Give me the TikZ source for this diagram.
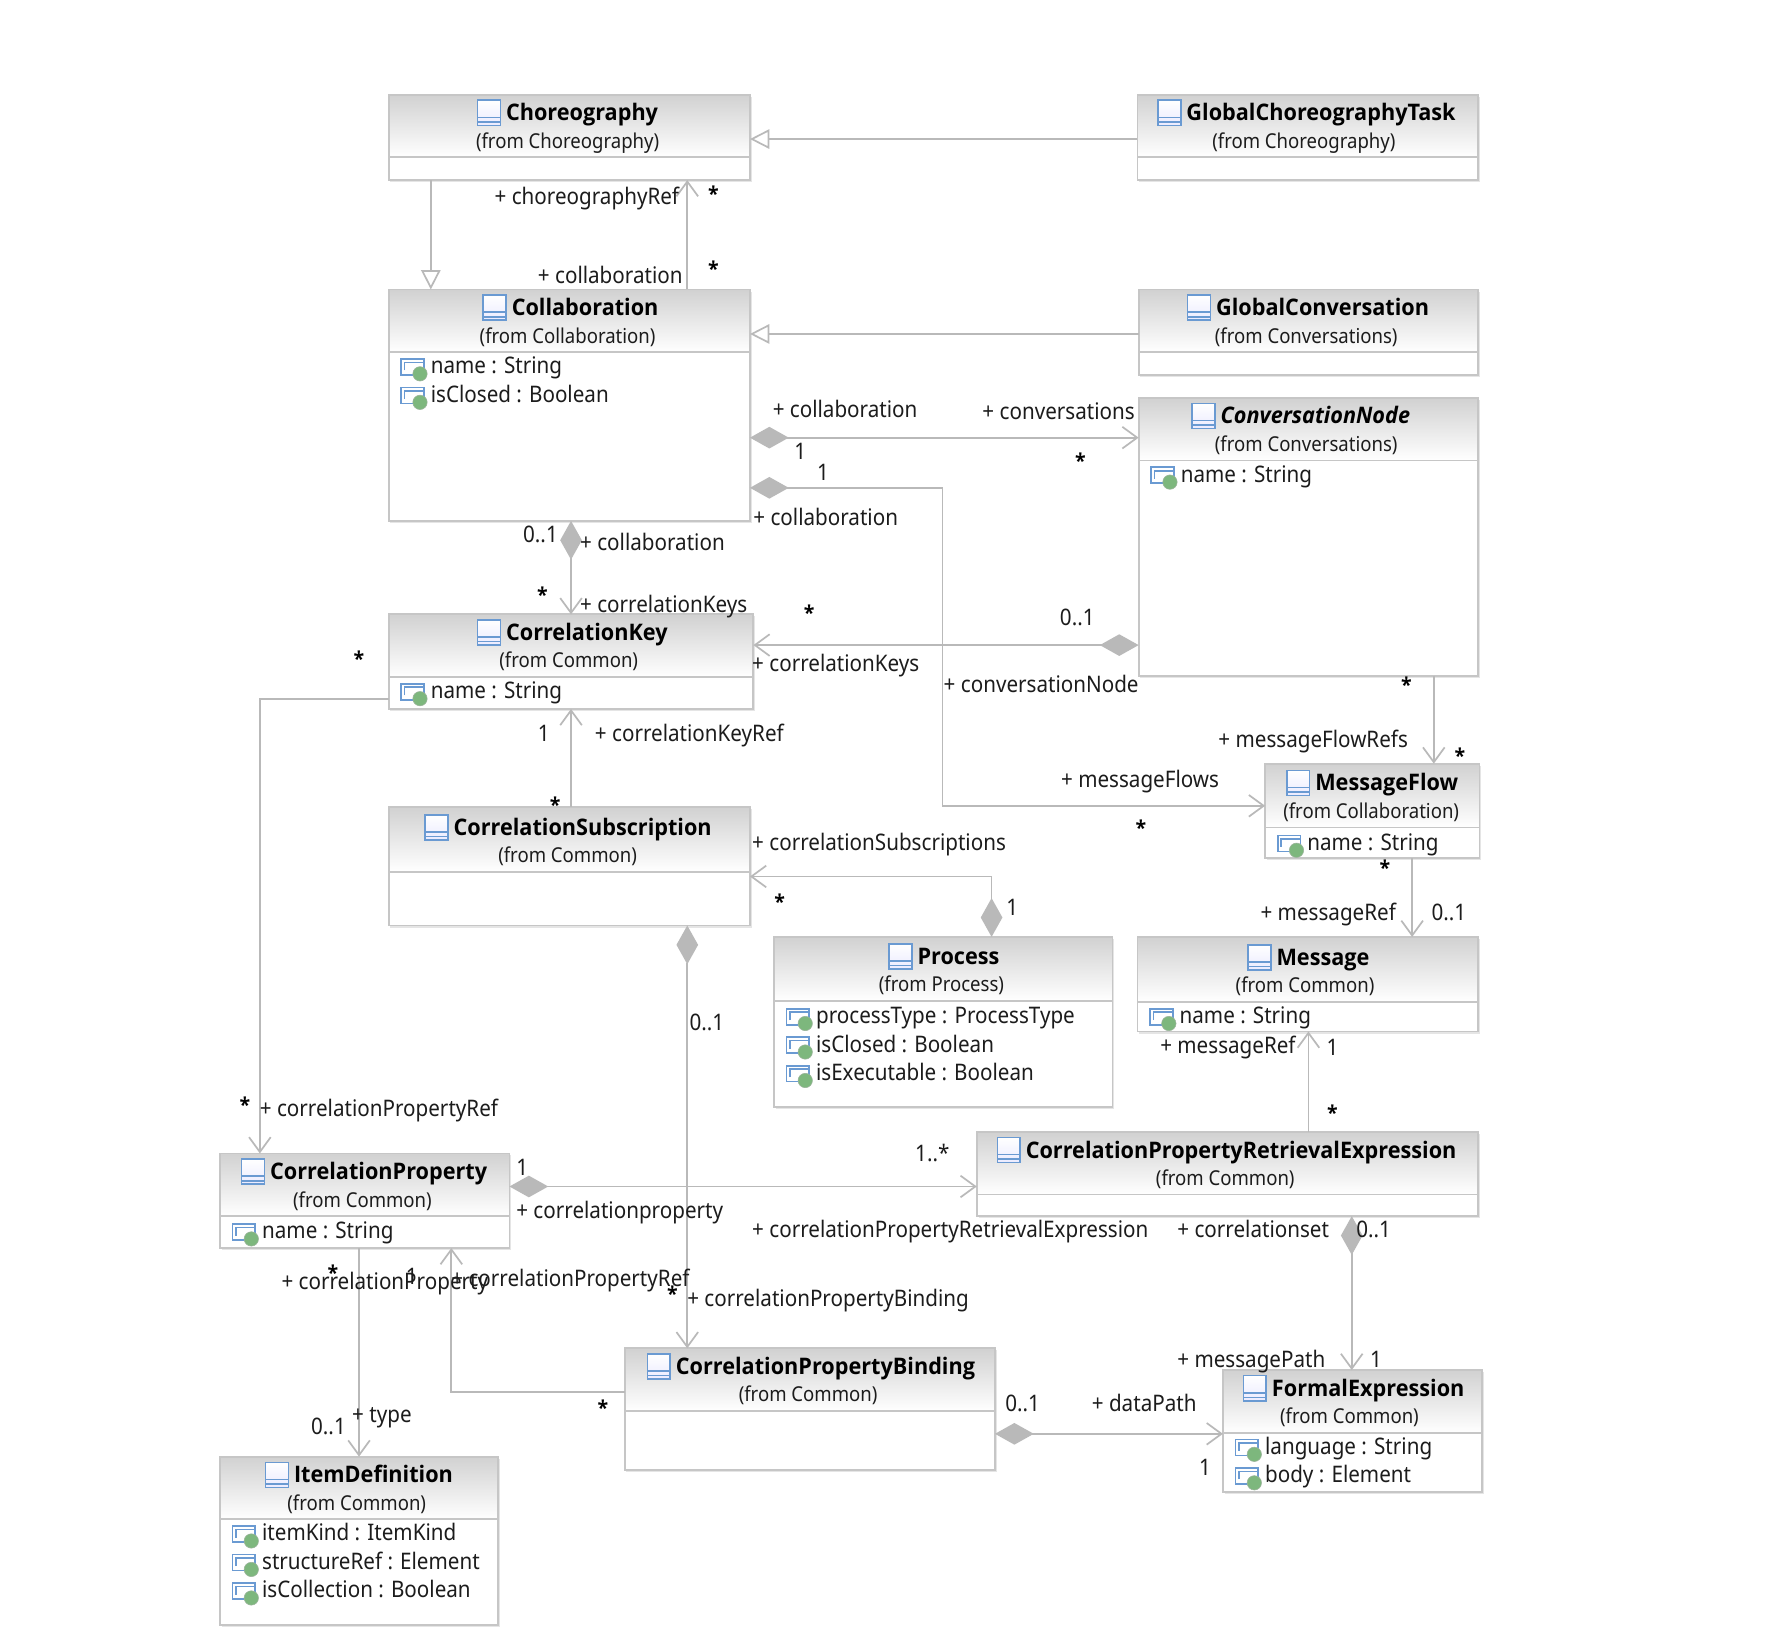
\documentclass[tikz,border=0pt]{standalone}
\usepackage{fontspec}
\setmainfont[FakeStretch=0.905]{Noto Sans}
\newfontfamily\titlefont[FakeStretch=0.95]{Open Sans}
\usetikzlibrary{arrows.meta,shadows,calc}
\definecolor{lineg}{HTML}{B9B9B9}
\definecolor{boxg}{HTML}{C6C6C6}
\definecolor{iconb}{HTML}{6A9AD2}
\definecolor{icong}{HTML}{7DB77D}
\definecolor{txt}{HTML}{1C1C1C}
\newcount\lblcnt
\tikzset{
  x=1pt,y=-1pt,
  umlbox/.style={draw=boxg,line width=1.6pt,fill=white,inner sep=0,outer sep=0,
    drop shadow={shadow xshift=1.6pt,shadow yshift=-1.8pt,fill=black!10,opacity=1}},
  boxline/.style={draw=boxg,line width=1.6pt},
  lbl/.style={anchor=west,inner sep=0,outer sep=0,text=txt,text height=16pt,text depth=2pt,font=\fontsize{20}{22}\selectfont},
  titlelbl/.style={anchor=west,inner sep=0,outer sep=0,text=black,text height=16pt,text depth=2pt,font=\fontsize{20}{22}\titlefont\bfseries},
  fromlbl/.style={anchor=center,inner sep=0,outer sep=0,text=txt,text height=16pt,text depth=2pt,font=\fontsize{18}{20}\selectfont},
  starlbl/.style={anchor=center,inner sep=0,outer sep=0,text=black,font=\fontsize{18}{20}\titlefont\bfseries},
  conn/.style={draw=lineg,line width=1.5pt},
  gen/.style={conn,-{Triangle[open,fill=white,length=17pt,width=17pt,line width=1.5pt]}},
  nav/.style={conn,-{Straight Barb[length=13pt,width=19pt,line width=1.5pt]}},
  compnav/.style={conn,{Diamond[fill=lineg,length=34pt,width=19pt,line width=0pt]}-{Straight Barb[length=13pt,width=19pt,line width=1.5pt]}},
}
% id, x1, y1, x2, y2, header line y, icon x, from centre x, title
\newcommand{\umlclass}[9]{%
  \node[umlbox,minimum width={(#4-#2)*1pt},minimum height={(#5-#3)*1pt}] (#1) at ({(#2+#4)/2},{(#3+#5)/2}) {};
  \shade[top color=black!18,bottom color=white] (#1.north west) rectangle (#1.east |- 0,#6);
  \draw[boxline] (#1.north west) rectangle (#1.south east);
  \draw[boxline] (#1.west |- 0,#6) -- (#1.east |- 0,#6);
  \pgfmathsetmacro{\ty}{#6-39}
  \pgfmathsetmacro{\fy}{#6-15}
  \pgfmathsetmacro{\ix}{#7+20}
  \pgfmathsetmacro{\iya}{\ty-11}
  \pgfmathsetmacro{\iyb}{\ty+11}
  \pgfmathsetmacro{\iyc}{\ty+4}
  \pgfmathsetmacro{\iyd}{\ty+8}
  \shade[top color=white,bottom color=blue!8] (#7,\iya) rectangle (\ix,\iyb);
  \draw[draw=iconb,line width=1.4pt] (#7,\iya) rectangle (\ix,\iyb) (#7,\iyc) -- (\ix,\iyc) (#7,\iyd) -- (\ix,\iyd);
  \pgfmathsetmacro{\tx}{#7+25}
  \node[titlelbl] (#1title) at (\tx,\ty) {#9};
  \node[fromlbl] (#1from) at (#8,\fy) {(from \csname from#1\endcsname)};
}
\newcommand{\attr}[3]{%
  \pgfmathsetmacro{\ax}{#1-26}
  \pgfmathsetmacro{\axb}{#1-6}
  \pgfmathsetmacro{\aya}{#2-6}
  \pgfmathsetmacro{\ayb}{#2+8}
  \pgfmathsetmacro{\ayc}{#2-3}
  \pgfmathsetmacro{\ayd}{#2+4}
  \pgfmathsetmacro{\axc}{#1-23}
  \pgfmathsetmacro{\gx}{#1-9.5}
  \pgfmathsetmacro{\gy}{#2+7}
  \draw[draw=iconb,line width=1.5pt] (\ax,\aya) rectangle (\axb,\ayb) (\axc,\ayd) -- (\axc,\ayc) -- (\axb,\ayc);
  \fill[icong,draw=icong!70!black!60!white,line width=.5pt] (\gx,\gy) circle (6.3);
  \global\advance\lblcnt by 1
  \node[lbl,name=t\the\lblcnt] at (#1,#2) {#3};
}
\newcommand{\lab}[3]{\global\advance\lblcnt by 1 \node[lbl,name=t\the\lblcnt] at (#1,#2) {#3};}
\newcommand{\stlab}[2]{\global\advance\lblcnt by 1 \node[starlbl,name=t\the\lblcnt] at (#1,#2) {\raisebox{-4.5pt}{*}};}
\def\fromchoreo{Choreography}\def\fromgct{Choreography}\def\fromcollab{Collaboration}
\def\fromgconv{Conversations}\def\fromconvnode{Conversations}\def\fromcorrkey{Common}
\def\frommsgflow{Collaboration}\def\fromcorrsub{Common}\def\fromprocess{Process}
\def\frommessage{Common}\def\fromcpre{Common}\def\fromcorrprop{Common}
\def\fromcpb{Common}\def\fromformal{Common}\def\fromitemdef{Common}
\begin{document}
\begin{tikzpicture}
\useasboundingbox (0,0) rectangle (1567,1447.6);
\fill[white] (0,0) rectangle (1567,1447.6);
\umlclass{choreo}{341}{83}{658}{158}{138}{419}{498}{Choreography}
\umlclass{gct}{998}{83}{1297}{158}{138}{1016}{1144}{GlobalChoreographyTask}
\umlclass{collab}{341}{254}{658}{457}{309}{424}{498}{Collaboration}
\umlclass{gconv}{999}{254}{1297}{329}{309}{1042}{1146}{GlobalConversation}
\umlclass{convnode}{999}{349}{1297}{593}{404}{1046}{1146}{\itshape ConversationNode}
\umlclass{corrkey}{341}{539}{661}{622}{594}{419}{499}{CorrelationKey}
\umlclass{msgflow}{1110}{670}{1298}{753}{726}{1129}{1203}{MessageFlow}
\umlclass{corrsub}{341}{708}{658}{812}{765}{373}{498}{CorrelationSubscription}
\umlclass{process}{679}{822}{976}{971}{878}{780}{826}{Process}
\umlclass{message}{998}{822}{1297}{905}{879}{1095}{1145}{Message}
\umlclass{cpre}{857}{993}{1297}{1067}{1048}{875}{1075}{CorrelationPropertyRetrievalExpression}
\umlclass{corrprop}{193}{1012}{447}{1095}{1067}{212}{318}{CorrelationProperty}
\umlclass{cpb}{548}{1183}{873}{1290}{1238}{568}{709}{CorrelationPropertyBinding}
\umlclass{formal}{1073}{1202}{1300}{1309}{1257}{1091}{1184}{FormalExpression}
\umlclass{itemdef}{193}{1278}{437}{1426}{1333}{233}{313}{ItemDefinition}
% attributes
\attr{378}{321}{name : String}
\attr{378}{346}{isClosed : Boolean}
\attr{1036}{416}{name : String}
\attr{378}{606}{name : String}
\attr{1147}{739}{name : String}
\attr{716}{891}{processType : ProcessType}
\attr{716}{916}{isClosed : Boolean}
\attr{716}{941}{isExecutable : Boolean}
\attr{1035}{891}{name : String}
\attr{230}{1080}{name : String}
\attr{1110}{1269}{language : String}
\attr{1110}{1294}{body : Element}
\attr{230}{1345}{itemKind : ItemKind}
\attr{230}{1370}{structureRef : Element}
\attr{230}{1395}{isCollection : Boolean}
% connectors
\draw[gen] (gct.west |- 0,122) -- (choreo.east |- 0,122);
\draw[gen] (gconv.west |- 0,293) -- (collab.east |- 0,293);
\draw[gen] (378,0 |- choreo.south) -- (378,0 |- collab.north);
\draw[nav] (603,0 |- collab.north) -- (603,0 |- choreo.south);
\draw[compnav] (collab.east |- 0,384) -- (convnode.west |- 0,384);
\draw[compnav] (collab.east |- 0,428) -- (827,428) -- (827,707) -- (msgflow.west |- 0,707);
\draw[compnav] (501,0 |- collab.south) -- (501,0 |- corrkey.north);
\draw[compnav] (convnode.west |- 0,566) -- (corrkey.east |- 0,566);
\draw[nav] (corrkey.west |- 0,613) -- (228,613) -- (228,0 |- corrprop.north);
\draw[nav] (501,0 |- corrsub.north) -- (501,0 |- corrkey.south);
\draw[compnav] (870,0 |- process.north) -- (870,769) -- (corrsub.east |- 0,769);
\draw[compnav] (603,0 |- corrsub.south) -- (603,0 |- cpb.north);
\draw[nav] (1258,0 |- convnode.south) -- (1258,0 |- msgflow.north);
\draw[nav] (1239,0 |- msgflow.south) -- (1239,0 |- message.north);
\draw[nav] (1148,0 |- cpre.north) -- (1148,0 |- message.south);
\draw[compnav] (corrprop.east |- 0,1041) -- (cpre.west |- 0,1041);
\draw[compnav] (1186,0 |- cpre.south) -- (1186,0 |- formal.north);
\draw[nav] (315,0 |- corrprop.south) -- (315,0 |- itemdef.north);
\draw[nav] (cpb.west |- 0,1221) -- (396,1221) -- (396,0 |- corrprop.south);
\draw[compnav] (cpb.east |- 0,1258) -- (formal.west |- 0,1258);
% labels
\lab{434}{172}{+ choreographyRef}
\stlab{626}{170}
\lab{472}{242}{+ collaboration}
\stlab{626}{236}
\lab{678}{359}{+ collaboration}
\lab{862}{361}{+ conversations}
\lab{697}{396}{1}
\lab{717}{415}{1}
\stlab{948}{404}
\lab{661}{454}{+ collaboration}
\lab{459}{469}{0..1}
\lab{509}{476}{+ collaboration}
\stlab{476}{522}
\lab{509}{530}{+ correlationKeys}
\stlab{710}{538}
\lab{930}{542}{0..1}
\lab{660}{582}{+ correlationKeys}
\stlab{315}{578}
\lab{828}{601}{+ conversationNode}
\stlab{1234}{601}
\lab{472}{644}{1}
\lab{522}{644}{+ correlationKeyRef}
\lab{1069}{649}{+ messageFlowRefs}
\stlab{1281}{663}
\lab{931}{684}{+ messageFlows}
\stlab{487}{706}
\stlab{1001}{726}
\lab{660}{739}{+ correlationSubscriptions}
\stlab{1215}{761}
\stlab{684}{791}
\lab{883}{796}{1}
\lab{1106}{801}{+ messageRef}
\lab{1256}{801}{0..1}
\lab{605}{897}{0..1}
\lab{1018}{917}{+ messageRef}
\lab{1164}{919}{1}
\lab{228}{973}{+ correlationPropertyRef}
\stlab{215}{969}
\stlab{1169}{976}
\lab{803}{1012}{1..*}
\lab{453}{1024}{1}
\lab{453}{1062}{+ correlationproperty}
\lab{660}{1079}{+ correlationPropertyRetrievalExpression}
\lab{1033}{1079}{+ correlationset}
\lab{1190}{1079}{0..1}
\lab{247}{1124}{+ correlationProperty}
\stlab{292}{1117}
\lab{356}{1120}{1}
\lab{396}{1122}{+ correlationPropertyRef}
\stlab{590}{1135}
\lab{603}{1139}{+ correlationPropertyBinding}
\lab{309}{1241}{+ type}
\lab{273}{1252}{0..1}
\stlab{529}{1235}
\lab{882}{1231}{0..1}
\lab{958}{1231}{+ dataPath}
\lab{1033}{1193}{+ messagePath}
\lab{1202}{1193}{1}
\lab{1052}{1288}{1}
\end{tikzpicture}
\end{document}
